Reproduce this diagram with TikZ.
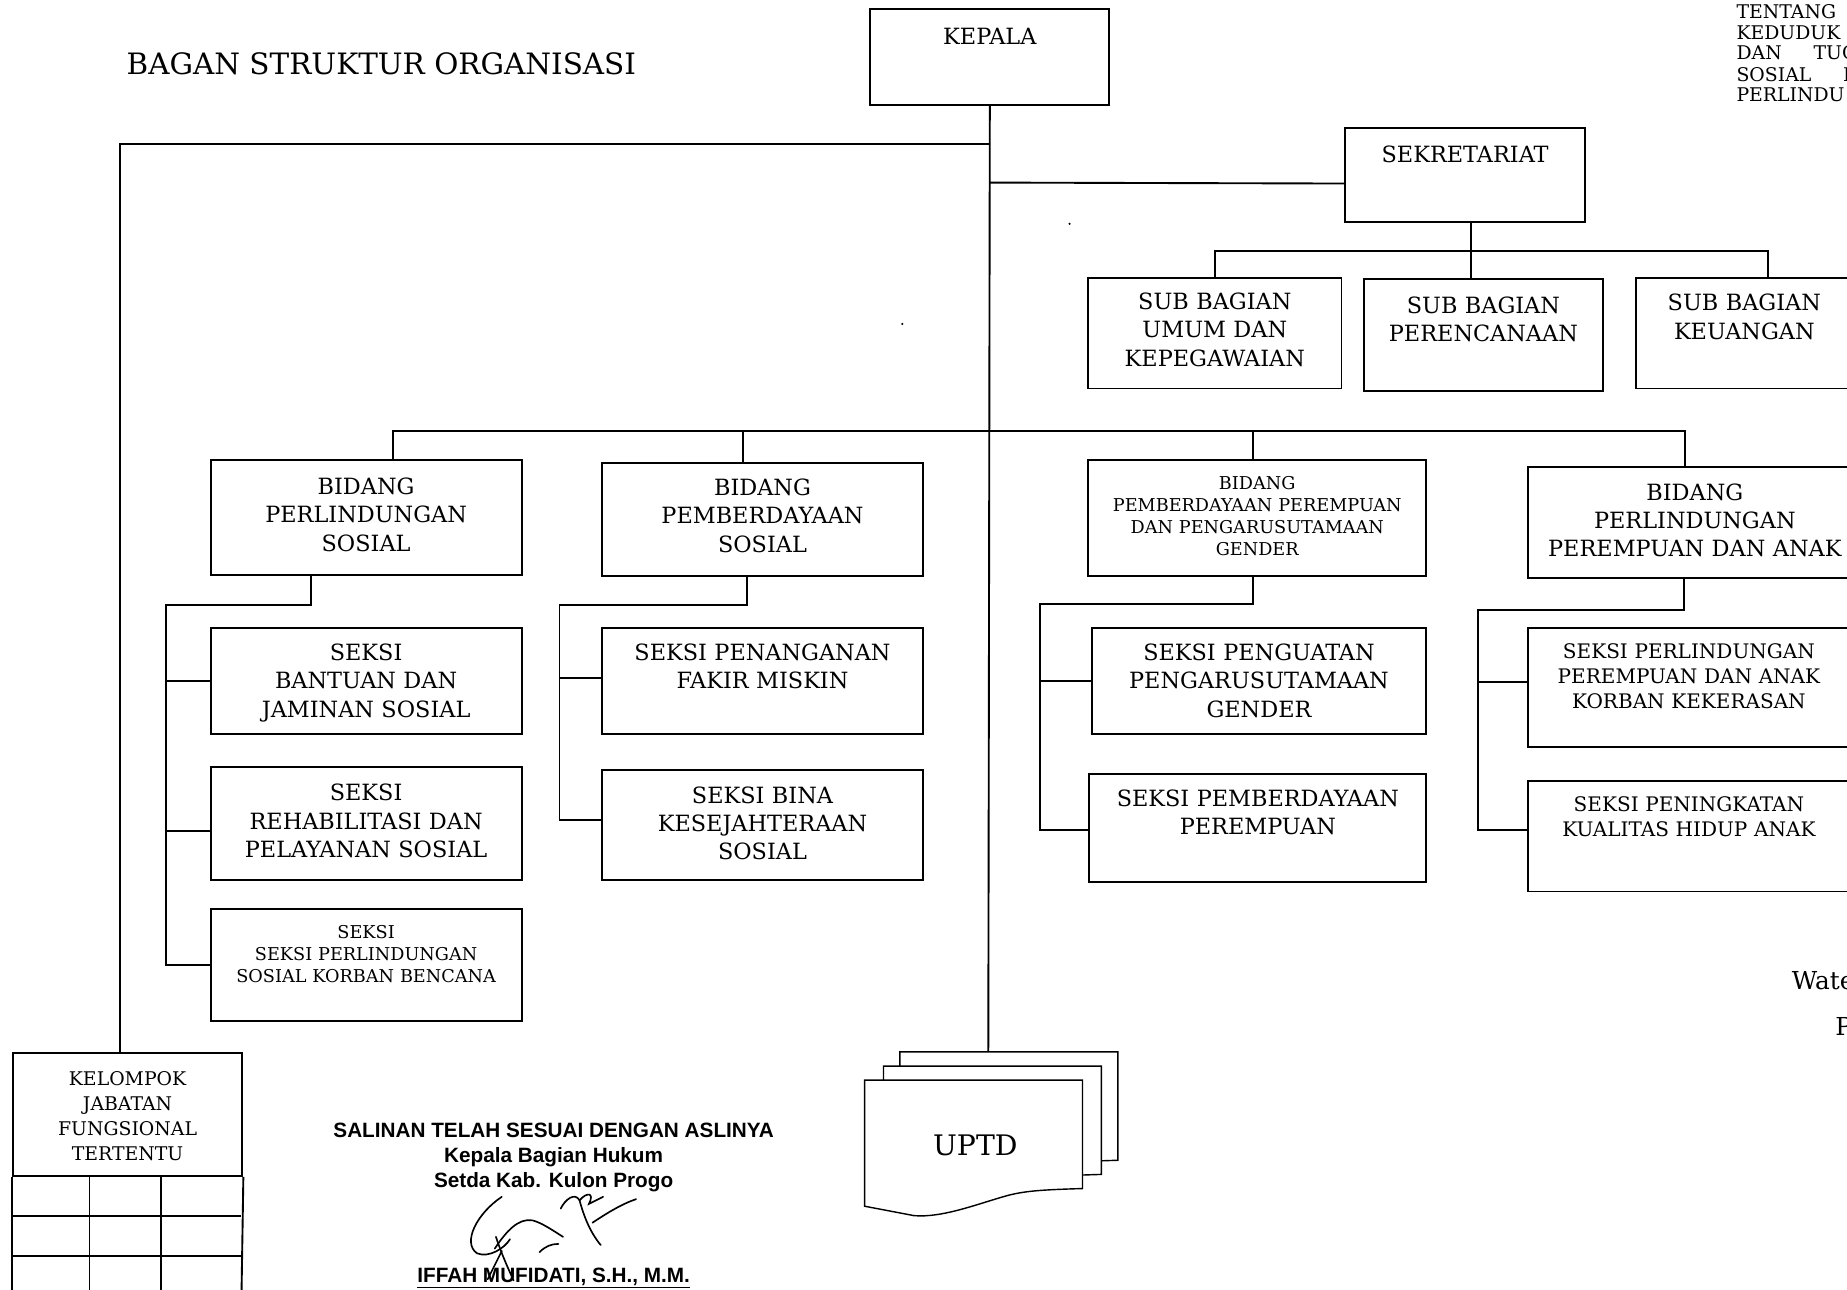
\documentclass[tikz,border=0pt]{standalone}
\usepackage{fontspec}
\setmainfont{DejaVu Serif}
\newfontfamily\signfont{Liberation Sans}

\newcommand{\bigtxt}{\fontsize{19}{24}\selectfont}
\newcommand{\midtxt}{\fontsize{17}{21.5}\selectfont}
\newcommand{\smalltxt}{\fontsize{15}{18.7}\selectfont}
\newcommand{\toptxt}{\fontsize{16}{18}\selectfont}
\newcommand{\sigtxt}{\signfont\bfseries\fontsize{17.6}{21}\selectfont}

\tikzset{
  box/.style={draw, line width=1.6pt, inner sep=0pt, align=center, anchor=north west, font=\bigtxt},
  sz/.style n args={3}{text width=#1pt, text depth=#2pt, text height=#3pt},
  link/.style={line width=1.6pt},
}

\begin{document}
\begin{tikzpicture}[x=1pt, y=-1pt]
    \path[use as bounding box] (0,0) rectangle (1568,1095);
    \clip (0,0) rectangle (1568,1095);

    % Judul dan teks pojok
    \node[anchor=base west, font=\fontsize{25}{30}\selectfont] (judul) at (104,63) {BAGAN STRUKTUR ORGANISASI};
    \foreach \ty/\txt [count=\i] in {15.6/TENTANG, 33.4/KEDUDUK, 50.9/DAN\hspace{27pt}TUGA, 69.3/SOSIAL\hspace{27pt}D, 86.3/PERLINDU}
        \node[anchor=base west, font=\toptxt, inner sep=0pt] (atas\i) at (1474,\ty) {\txt};
    \node[anchor=base west, font=\fontsize{21}{24}\selectfont, inner sep=0pt] (wates) at (1521,840) {Wate};
    \node[anchor=base west, font=\fontsize{21}{24}\selectfont, inner sep=0pt] (huruf) at (1558,879) {P};
    \fill (908,190) circle (1);
    \fill (766,275) circle (1);

    % Kepala dan sekretariat
    \node[box, sz={203}{51}{30}] (kepala) at (738,7) {KEPALA};
    \node[box, sz={204}{51}{29}] (sekretariat) at (1141,108) {SEKRETARIAT};
    \node[box, sz={215}{67}{27}] (sbumum) at (923,235) {SUB BAGIAN\\UMUM DAN\\KEPEGAWAIAN};
    \node[box, sz={203}{66}{29}] (sbper) at (1157,236) {SUB BAGIAN\\PERENCANAAN};
    \node[box, sz={184}{66}{28}] (sbkeu) at (1388,235) {SUB BAGIAN\\KEUANGAN};

    % Bidang
    \node[box, sz={264}{68}{29}] (bps) at (178,390) {BIDANG\\PERLINDUNGAN\\SOSIAL};
    \node[box, sz={273}{68}{28}] (bpms) at (510,392) {BIDANG\\PEMBERDAYAAN\\SOSIAL};
    \node[box, sz={287}{73.5}{24.5}, font=\smalltxt] (bpppug) at (923,390) {BIDANG\\PEMBERDAYAAN PEREMPUAN\\DAN PENGARUSUTAMAAN\\GENDER};
    \node[box, sz={284}{66}{28}] (bppa) at (1296,396) {BIDANG\\PERLINDUNGAN\\PEREMPUAN DAN ANAK};

    % Seksi
    \node[box, sz={264}{62}{28}] (sbjs) at (178,532) {SEKSI\\BANTUAN DAN\\JAMINAN SOSIAL};
    \node[box, sz={264}{67}{29}] (srps) at (178,650) {SEKSI\\REHABILITASI DAN\\PELAYANAN SOSIAL};
    \node[box, sz={264}{70.5}{24.5}, font=\smalltxt] (spskb) at (178,771) {SEKSI\\SEKSI PERLINDUNGAN\\SOSIAL KORBAN BENCANA};
    \node[box, sz={273}{62}{28}] (spfm) at (510,532) {SEKSI PENANGANAN\\FAKIR MISKIN};
    \node[box, sz={273}{65}{28}] (sbks) at (510,653) {SEKSI BINA\\KESEJAHTERAAN\\SOSIAL};
    \node[box, sz={284}{62}{28}] (sppg) at (926,532) {SEKSI PENGUATAN\\PENGARUSUTAMAAN\\GENDER};
    \node[box, sz={286}{64}{28}] (spp) at (924,656) {SEKSI PEMBERDAYAAN\\PEREMPUAN};
    \node[box, sz={274}{75}{26}, font=\midtxt] (sppakk) at (1296,532) {SEKSI PERLINDUNGAN\\PEREMPUAN DAN ANAK\\KORBAN KEKERASAN};
    \node[box, sz={274}{68}{26}, font=\midtxt] (spkha) at (1296,662) {SEKSI PENINGKATAN\\KUALITAS HIDUP ANAK};

    % Kelompok jabatan fungsional
    \node[box, sz={195}{76.5}{28}, font=\fontsize{16}{21}\selectfont] (kelompok) at (10,893) {KELOMPOK\\JABATAN\\FUNGSIONAL\\TERTENTU};
    \draw[link] (kelompok.south west) -- (10,1100);
    \draw[link] (kelompok.south east) -- (205,1100);
    \foreach \gx in {76,136.5}
        \draw[link] (\gx,997.5) -- (\gx,1100);
    \foreach \gy in {1032,1066}
        \draw[link] (10,\gy) -- (205,\gy);

    % UPTD
    \foreach \dx/\dy in {30/-24, 16/-12, 0/0}
        \draw[line width=1.2pt, fill=white, shift={(\dx,\dy)}] (734,917) -- (919,917) -- (919,1009)
            .. controls (885,1010) and (870,1011) .. (855,1015)
            .. controls (830,1022) and (800,1034) .. (776,1032) -- (734,1024) -- cycle;
    \node[font=\fontsize{24}{28}\selectfont] (uptd) at (828,972) {UPTD};
    \coordinate (uptdtop) at (839,893);

    % Garis komando
    \draw[link] (kepala.south) -- (uptdtop);
    \draw[link] (kepala.south |- 0,122) -| ([xshift=-6.5pt]kelompok.north);
    \draw[link] (kepala.south |- 0,155) -- ([yshift=-7pt]sekretariat.west);
    \draw[link] (sbumum.north) |- ([xshift=20pt]sbkeu.north |- 0,213) -- ([xshift=20pt]sbkeu.north);
    \draw[link] ([xshift=5pt]sekretariat.south) -- ([xshift=5pt]sekretariat.south |- sbper.north);
    \draw[link] ([xshift=23pt]bps.north) |- ([xshift=-8pt]bppa.north |- 0,366) -- ([xshift=-8pt]bppa.north);
    \foreach \nd/\dx in {bpms/-16.5, bpppug/-3.5}
        \draw[link] ([xshift=\dx pt]\nd.north) -- ([xshift=\dx pt]\nd.north |- 0,366);

    % Garis ke seksi
    \draw[link] ([xshift=-47pt]bps.south) -- ++(0,25) -| ([xshift=-37pt]spskb.west) -- (spskb.west);
    \draw[link] (sbjs.west) -- ++(-37,0);
    \draw[link] ([yshift=-7pt]srps.west) -- ++(-37,0);
    \draw[link] ([xshift=-13.5pt]bpms.south) -- ++(0,24) -| ([xshift=-35pt,yshift=4.5pt]sbks.west) -- ([yshift=4.5pt]sbks.west);
    \draw[link] ([yshift=2pt]spfm.west) -- ++(-35,0);
    \draw[link] ([xshift=-3.5pt]bpppug.south) -- ++(0,23) -| ([xshift=-41pt,yshift=-2pt]spp.west) -- ([yshift=-2pt]spp.west);
    \draw[link] (sppg.west) -- ++(-43,0);
    \draw[link] ([xshift=-9pt]bppa.south) -- ++(0,26) -| ([xshift=-41pt,yshift=5pt]spkha.west) -- ([yshift=5pt]spkha.west);
    \draw[link] ([yshift=4.5pt]sppakk.west) -- ++(-41,0);

    % Pengesahan
    \node[anchor=base, font=\sigtxt] (salin1) at (470,966) {SALINAN TELAH SESUAI DENGAN ASLINYA};
    \node[anchor=base, font=\sigtxt] (salin2) at (470,987) {Kepala Bagian Hukum};
    \node[anchor=base, font=\sigtxt] (salin3) at (470,1008.5) {Setda Kab. Kulon Progo};
    \node[anchor=base, font=\sigtxt] (pejabat) at (470,1089) {\underline{IFFAH MUFIDATI, S.H., M.M.}};
    \begin{scope}[line width=1.4pt, line cap=round]
        \draw (426,1016) .. controls (405,1030) and (392,1055) .. (405,1064) .. controls (415,1068) and (428,1060) .. (433,1052);
        \draw (420,1060) .. controls (430,1045) and (440,1034) .. (452,1036) .. controls (460,1038) and (470,1045) .. (478,1050);
        \draw (476,1026) .. controls (480,1018) and (488,1012) .. (492,1019) .. controls (495,1030) and (500,1045) .. (510,1057);
        \draw (492,1019) .. controls (498,1012) and (505,1012) .. (500,1022) -- (512,1016);
        \draw (503,1038) .. controls (515,1030) and (528,1022) .. (540,1018);
        \draw (458,1063) .. controls (463,1058) and (468,1056) .. (474,1056);
        \draw (421,1050) .. controls (426,1065) and (431,1076) .. (436,1087);
        \draw (414,1086) -- (426,1062);
    \end{scope}
\end{tikzpicture}
\end{document}
